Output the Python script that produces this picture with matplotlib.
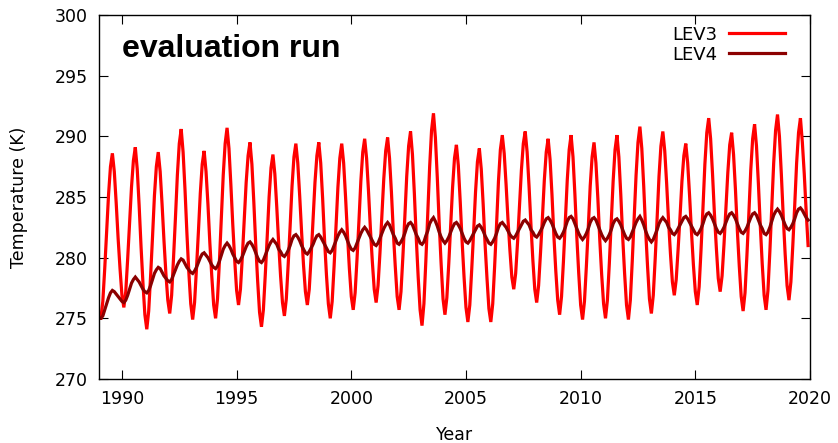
import matplotlib.pyplot as plt
import numpy as np

# monthly values, one row per year (Jan..Dec), 1989-2019
lev3 = [
    275.0, 275.0, 276.4, 279.1, 282.1, 285.2, 287.5, 288.6, 287.1, 284.5, 281.6, 279.1,  # 1989
    276.9, 275.9, 277.2, 279.9, 282.8, 285.8, 288.0, 289.1, 287.3, 284.3, 280.9, 277.9,  # 1990
    275.3, 274.1, 275.6, 278.5, 281.7, 285.1, 287.5, 288.7, 287.1, 284.4, 281.4, 278.7,  # 1991
    276.5, 275.4, 276.9, 280.0, 283.3, 286.8, 289.4, 290.6, 288.7, 285.6, 282.0, 278.8,  # 1992
    276.2, 274.9, 276.3, 279.1, 282.1, 285.3, 287.7, 288.8, 287.1, 284.4, 281.2, 278.5,  # 1993
    276.1, 275.0, 276.6, 279.7, 283.2, 286.8, 289.4, 290.7, 289.0, 286.0, 282.7, 279.8,  # 1994
    277.3, 276.1, 277.4, 280.1, 283.1, 286.2, 288.4, 289.5, 287.7, 284.6, 281.1, 278.1,  # 1995
    275.5, 274.3, 275.7, 278.6, 281.7, 285.0, 287.4, 288.5, 286.9, 284.2, 281.2, 278.5,  # 1996
    276.3, 275.2, 276.6, 279.5, 282.6, 285.9, 288.3, 289.4, 287.8, 285.1, 282.1, 279.4,  # 1997
    277.2, 276.1, 277.4, 280.1, 283.1, 286.2, 288.4, 289.5, 287.8, 284.9, 281.5, 278.6,  # 1998
    276.2, 275.0, 276.4, 279.3, 282.5, 285.8, 288.2, 289.4, 287.8, 285.0, 281.9, 279.1,  # 1999
    276.8, 275.7, 277.1, 279.9, 283.0, 286.3, 288.7, 289.8, 288.2, 285.5, 282.4, 279.7,  # 2000
    277.4, 276.3, 277.7, 280.4, 283.4, 286.5, 288.8, 289.9, 288.2, 285.4, 282.1, 279.3,  # 2001
    276.8, 275.7, 277.2, 280.1, 283.3, 286.7, 289.2, 290.4, 288.5, 285.3, 281.6, 278.4,  # 2002
    275.7, 274.4, 276.2, 279.7, 283.5, 287.5, 290.5, 291.9, 289.9, 286.6, 282.8, 279.5,  # 2003
    276.6, 275.3, 276.7, 279.5, 282.6, 285.8, 288.2, 289.3, 287.6, 284.6, 281.3, 278.4,  # 2004
    275.9, 274.7, 276.1, 279.0, 282.1, 285.4, 287.9, 289.0, 287.3, 284.4, 281.1, 278.3,  # 2005
    275.8, 274.7, 276.2, 279.3, 282.7, 286.3, 288.9, 290.1, 288.6, 286.0, 283.1, 280.6,  # 2006
    278.4, 277.4, 278.7, 281.3, 284.2, 287.2, 289.4, 290.4, 288.7, 285.9, 282.7, 279.8,  # 2007
    277.4, 276.3, 277.7, 280.4, 283.3, 286.4, 288.7, 289.8, 288.1, 285.2, 281.8, 278.9,  # 2008
    276.5, 275.3, 276.8, 279.7, 283.0, 286.4, 288.9, 290.1, 288.3, 285.2, 281.7, 278.7,  # 2009
    276.1, 274.9, 276.4, 279.3, 282.5, 285.9, 288.3, 289.5, 287.8, 284.9, 281.5, 278.6,  # 2010
    276.2, 275.0, 276.5, 279.5, 282.9, 286.3, 288.9, 290.1, 288.3, 285.2, 281.7, 278.7,  # 2011
    276.1, 274.9, 276.5, 279.7, 283.2, 286.8, 289.5, 290.8, 289.0, 285.9, 282.3, 279.3,  # 2012
    276.6, 275.4, 276.9, 279.9, 283.2, 286.7, 289.2, 290.4, 288.8, 286.1, 283.0, 280.3,  # 2013
    278.0, 276.9, 278.2, 280.7, 283.4, 286.3, 288.4, 289.4, 287.8, 285.1, 282.1, 279.4,  # 2014
    277.2, 276.1, 277.6, 280.7, 284.1, 287.7, 290.3, 291.5, 289.8, 286.9, 283.6, 280.8,  # 2015
    278.3, 277.2, 278.5, 281.1, 284.0, 287.0, 289.3, 290.3, 288.5, 285.6, 282.2, 279.3,  # 2016
    276.8, 275.6, 277.1, 280.2, 283.6, 287.2, 289.8, 291.0, 289.2, 286.1, 282.6, 279.5,  # 2017
    276.9, 275.7, 277.3, 280.5, 284.1, 287.8, 290.5, 291.8, 290.0, 286.9, 283.4, 280.3,  # 2018
    277.7, 276.5, 278.0, 281.0, 284.3, 287.8, 290.3, 291.5, 289.5, 286.9, 283.8, 281.0,  # 2019
]

lev4 = [
    275.0, 275.0, 275.2, 275.7, 276.2, 276.7, 277.1, 277.3, 277.2, 277.0, 276.8, 276.6,  # 1989
    276.4, 276.3, 276.5, 276.9, 277.4, 277.9, 278.2, 278.4, 278.2, 278.0, 277.7, 277.4,  # 1990
    277.2, 277.1, 277.3, 277.7, 278.2, 278.7, 279.0, 279.2, 279.1, 278.8, 278.5, 278.3,  # 1991
    278.1, 278.0, 278.2, 278.6, 279.0, 279.4, 279.7, 279.9, 279.8, 279.5, 279.2, 279.0,  # 1992
    278.8, 278.7, 278.9, 279.2, 279.6, 280.0, 280.3, 280.4, 280.2, 280.0, 279.7, 279.4,  # 1993
    279.2, 279.1, 279.3, 279.7, 280.2, 280.7, 281.0, 281.2, 281.0, 280.7, 280.3, 280.0,  # 1994
    279.7, 279.6, 279.8, 280.1, 280.5, 280.9, 281.2, 281.3, 281.1, 280.8, 280.4, 280.0,  # 1995
    279.7, 279.6, 279.8, 280.2, 280.6, 281.0, 281.3, 281.5, 281.3, 281.1, 280.7, 280.5,  # 1996
    280.2, 280.1, 280.3, 280.6, 281.0, 281.5, 281.8, 281.9, 281.7, 281.4, 281.0, 280.7,  # 1997
    280.4, 280.3, 280.5, 280.8, 281.1, 281.5, 281.8, 281.9, 281.7, 281.4, 281.1, 280.8,  # 1998
    280.5, 280.4, 280.6, 281.0, 281.4, 281.8, 282.1, 282.3, 282.1, 281.8, 281.4, 281.0,  # 1999
    280.7, 280.6, 280.8, 281.2, 281.6, 282.0, 282.3, 282.5, 282.3, 282.0, 281.7, 281.4,  # 2000
    281.1, 281.0, 281.2, 281.6, 282.0, 282.4, 282.7, 282.9, 282.7, 282.3, 281.9, 281.6,  # 2001
    281.2, 281.1, 281.3, 281.6, 282.0, 282.5, 282.8, 282.9, 282.7, 282.3, 281.9, 281.6,  # 2002
    281.2, 281.1, 281.3, 281.8, 282.2, 282.8, 283.1, 283.3, 283.0, 282.6, 282.1, 281.7,  # 2003
    281.4, 281.2, 281.4, 281.7, 282.1, 282.5, 282.8, 282.9, 282.7, 282.4, 282.0, 281.6,  # 2004
    281.3, 281.2, 281.4, 281.7, 282.0, 282.3, 282.6, 282.7, 282.5, 282.2, 281.8, 281.5,  # 2005
    281.2, 281.1, 281.3, 281.6, 282.0, 282.5, 282.8, 282.9, 282.7, 282.5, 282.2, 281.9,  # 2006
    281.7, 281.6, 281.8, 282.1, 282.4, 282.7, 283.0, 283.1, 282.9, 282.7, 282.3, 282.1,  # 2007
    281.8, 281.7, 281.9, 282.2, 282.5, 282.9, 283.2, 283.3, 283.1, 282.8, 282.4, 282.0,  # 2008
    281.7, 281.6, 281.8, 282.1, 282.5, 283.0, 283.3, 283.4, 283.2, 282.8, 282.4, 282.0,  # 2009
    281.7, 281.5, 281.7, 282.0, 282.4, 282.9, 283.2, 283.3, 283.1, 282.7, 282.3, 281.9,  # 2010
    281.6, 281.4, 281.6, 281.9, 282.3, 282.8, 283.1, 283.2, 283.0, 282.7, 282.3, 281.9,  # 2011
    281.6, 281.5, 281.7, 282.1, 282.5, 282.9, 283.2, 283.4, 283.1, 282.7, 282.2, 281.8,  # 2012
    281.5, 281.3, 281.5, 281.9, 282.3, 282.8, 283.1, 283.3, 283.1, 282.9, 282.5, 282.3,  # 2013
    282.0, 281.9, 282.1, 282.4, 282.7, 283.0, 283.3, 283.4, 283.2, 282.9, 282.6, 282.3,  # 2014
    282.0, 281.9, 282.1, 282.4, 282.8, 283.3, 283.6, 283.7, 283.5, 283.2, 282.8, 282.4,  # 2015
    282.1, 282.0, 282.2, 282.5, 282.9, 283.3, 283.6, 283.7, 283.5, 283.2, 282.8, 282.4,  # 2016
    282.1, 282.0, 282.2, 282.5, 282.9, 283.3, 283.6, 283.7, 283.5, 283.1, 282.7, 282.4,  # 2017
    282.0, 281.9, 282.1, 282.5, 283.0, 283.5, 283.8, 284.0, 283.8, 283.5, 283.1, 282.7,  # 2018
    282.4, 282.3, 282.5, 282.8, 283.2, 283.7, 284.0, 284.1, 283.9, 283.6, 283.3, 283.1,  # 2019
]

start_year = 1989
x_ticks = [1990, 1995, 2000, 2005, 2010, 2015, 2020]
y_ticks = [270, 275, 280, 285, 290, 295, 300]

time = start_year + np.arange(len(lev3)) / 12.0

fig = plt.figure(figsize=(8.38, 4.43), dpi=100)
ax = fig.add_axes([99 / 838, 1 - 379 / 443, 711 / 838, 364 / 443])

ax.plot(time, lev3, color="#ff0000", linewidth=2.3, label="LEV3", solid_joinstyle="miter")
ax.plot(time, lev4, color="#8b0000", linewidth=2.3, label="LEV4", solid_joinstyle="miter")

ax.set_xlim(start_year, 2020)
ax.set_ylim(270, 300)
ax.set_xticks(x_ticks)
ax.set_yticks(y_ticks)
ax.tick_params(direction="in", length=6.5, width=0.8, top=True, right=True,
               labelsize=12.5, pad=8)
for s in ax.spines.values():
    s.set_linewidth(1.0)

ax.set_xlabel("Year", fontsize=12.5, labelpad=13)
ax.set_ylabel("Temperature (K)", fontsize=12.5, labelpad=19)

ax.text(0.032, 0.885, "evaluation run", transform=ax.transAxes, fontsize=23,
        fontweight="bold", family="Liberation Sans", va="baseline", ha="left")

leg = ax.legend(loc="upper right", bbox_to_anchor=(0.982, 1.005), frameon=False,
                markerfirst=False, fontsize=13, handlelength=3.1,
                handletextpad=0.6, labelspacing=0.1, borderaxespad=0.3)

fig.savefig("out.png", dpi=100)
